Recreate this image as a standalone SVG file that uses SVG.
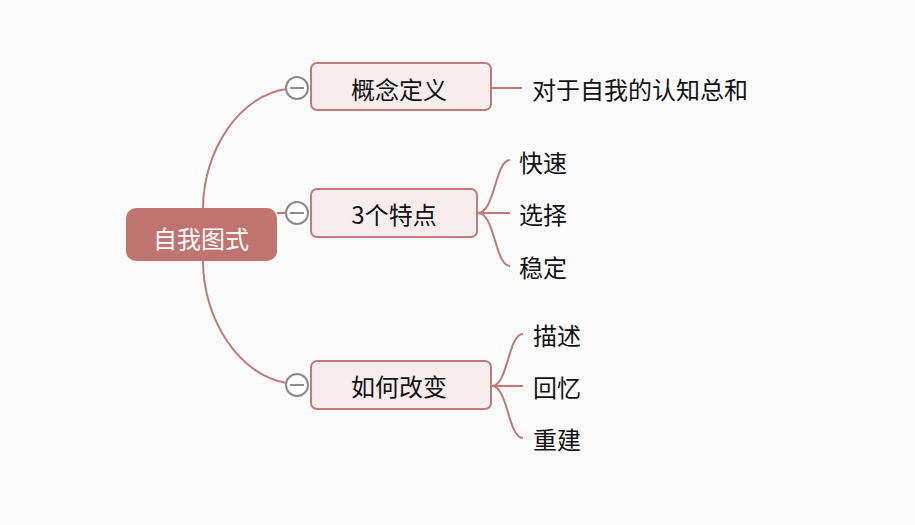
<svg xmlns="http://www.w3.org/2000/svg" width="915" height="525" viewBox="0 0 915 525">
<style>
text{font-family:"Microsoft YaHei","Noto Sans CJK SC","Noto Sans",sans-serif;font-size:24px;fill:#111;dominant-baseline:central}
.node{fill:#f7eded;stroke:#c47a78;stroke-width:2}
.conn{fill:none;stroke:#c07a76;stroke-width:2}
.tog{fill:#fff;stroke:#8a8a8a;stroke-width:2}
.togl{stroke:#8a8a8a;stroke-width:2}
</style>
<rect width="915" height="525" fill="#fbfafa"/>
<g id="connectors">
<path class="conn" d="M203 209 C203 150 240 95 287 89"/>
<path class="conn" d="M277 213 L287 213"/>
<path class="conn" d="M203 261 C203 320 240 376 287 383"/>
<path class="conn" d="M491 88 L522 88"/>
<path class="conn" d="M478 213 C495 213 495 160 510 160"/>
<path class="conn" d="M478 213 L510 213"/>
<path class="conn" d="M478 213 C495 213 495 266 510 266"/>
<path class="conn" d="M492 386 C508 386 508 334 523 334"/>
<path class="conn" d="M492 386 L523 386"/>
<path class="conn" d="M492 386 C508 386 508 438 523 438"/>
</g>
<g id="root">
<rect x="126" y="208" width="151" height="53" rx="10" fill="#c07470"/>
<text x="201" y="237" text-anchor="middle" style="fill:#fff">自我图式</text>
</g>
<g id="n1">
<rect class="node" x="311" y="63" width="180" height="47" rx="6"/>
<text x="399" y="88" text-anchor="middle">概念定义</text>
<circle class="tog" cx="297" cy="88" r="11"/><line class="togl" x1="290" y1="88" x2="304" y2="88"/>
</g>
<g id="n2">
<rect class="node" x="311" y="189" width="166" height="48" rx="6"/>
<text x="394" y="213" text-anchor="middle">3个特点</text>
<circle class="tog" cx="297" cy="213" r="11"/><line class="togl" x1="290" y1="213" x2="304" y2="213"/>
</g>
<g id="n3">
<rect class="node" x="311" y="361" width="180" height="48" rx="6"/>
<text x="399" y="385" text-anchor="middle">如何改变</text>
<circle class="tog" cx="297" cy="385" r="11"/><line class="togl" x1="290" y1="385" x2="304" y2="385"/>
</g>
<g id="leaf1"><text x="532" y="88">对于自我的认知总和</text></g>
<g id="leaf2"><text x="519" y="161">快速</text></g>
<g id="leaf3"><text x="519" y="213">选择</text></g>
<g id="leaf4"><text x="519" y="266">稳定</text></g>
<g id="leaf5"><text x="533" y="334">描述</text></g>
<g id="leaf6"><text x="533" y="386">回忆</text></g>
<g id="leaf7"><text x="533" y="438">重建</text></g>
</svg>
